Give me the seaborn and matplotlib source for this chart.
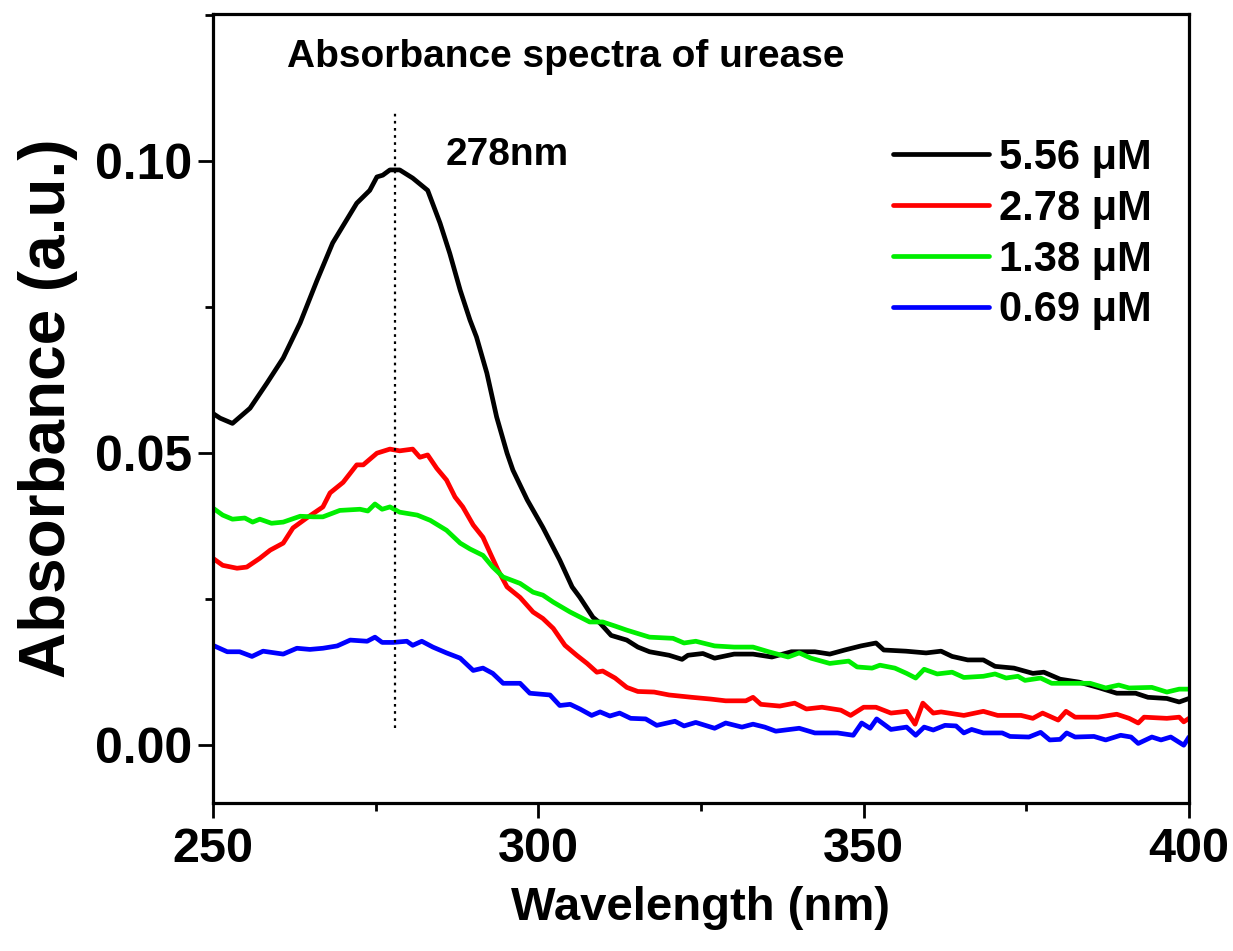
import numpy as np
import pandas as pd
import matplotlib
matplotlib.use("Agg")
import matplotlib.pyplot as plt
from matplotlib import font_manager
from matplotlib.ticker import MultipleLocator, FormatStrFormatter
import seaborn as sns

# ---- data ----
wl_black = [250, 251.1, 253, 255.7, 258.3, 260.8, 263.4, 266, 268.4, 272.1, 274.1, 275.2, 276.1,
            277.2, 278.7, 280.7, 283, 284.9, 286.4, 288, 289.5, 290.5, 292.1, 293.6, 295.2, 296.1,
            298.3, 300.7, 303.3, 305.2, 306.4, 308.4, 309.5, 311.2, 313.6, 315.3, 317.1, 320.1,
            322.1, 323, 325.3, 327.1, 330.1, 333, 335.9, 338.9, 342.5, 344.8, 347.1, 349.6, 351.9,
            353.1, 356.5, 359.6, 361.9, 363.6, 366, 368.4, 370.2, 373.1, 376, 377.7, 380.2, 383.1,
            386, 388.9, 391.8, 393.7, 396.6, 398.5, 400]
abs_black = [0.0568, 0.056, 0.0551, 0.0577, 0.062, 0.0663, 0.0723, 0.0796, 0.086, 0.0928, 0.095,
             0.0973, 0.0976, 0.0985, 0.0985, 0.0971, 0.095, 0.0894, 0.0842, 0.0779, 0.0728, 0.0699,
             0.0637, 0.0562, 0.05, 0.0471, 0.042, 0.0373, 0.0317, 0.0271, 0.0253, 0.0219, 0.0209,
             0.0188, 0.018, 0.0168, 0.016, 0.0154, 0.0147, 0.0154, 0.0157, 0.0149, 0.0156, 0.0156,
             0.0151, 0.016, 0.016, 0.0156, 0.0163, 0.017, 0.0175, 0.0163, 0.0161, 0.0158, 0.0161,
             0.0152, 0.0146, 0.0146, 0.0135, 0.0132, 0.0123, 0.0125, 0.0113, 0.0108, 0.0099, 0.0089,
             0.0089, 0.0082, 0.008, 0.0074, 0.008]

wl_red = [250, 251.5, 253.7, 255.2, 257.2, 258.8, 260.8, 262.3, 264.4, 266.9, 268, 270, 272.1,
          273.1, 275.2, 277.2, 278.7, 280.7, 281.8, 283, 284.4, 285.9, 287.2, 288.4, 290, 291.5,
          292.6, 293.8, 295.2, 297.2, 299.2, 300.7, 302.3, 304.1, 305.9, 307.5, 309, 309.9, 311.8,
          313.6, 315.3, 317.8, 320.1, 323.6, 326.5, 328.8, 331.9, 333, 334.2, 337.1, 339.4, 341.2,
          343.6, 346.5, 348, 350, 351.9, 354.2, 356.6, 357.9, 359.1, 360.7, 361.9, 365.4, 368.4,
          370.6, 374.2, 376, 377.5, 379.9, 381.1, 382.5, 386, 388.9, 390.8, 392.2, 393.1, 396.6,
          398.5, 399.2, 400]
abs_red = [0.032, 0.0308, 0.0303, 0.0305, 0.032, 0.0334, 0.0346, 0.0372, 0.0389, 0.0408, 0.0432,
           0.045, 0.048, 0.048, 0.05, 0.0507, 0.0504, 0.0507, 0.0493, 0.0497, 0.0474, 0.0454,
           0.0425, 0.0408, 0.0377, 0.0356, 0.0329, 0.03, 0.0271, 0.0253, 0.0228, 0.0217, 0.02,
           0.0171, 0.0154, 0.014, 0.0125, 0.0127, 0.0115, 0.0099, 0.0092, 0.0091, 0.0086, 0.0082,
           0.0079, 0.0076, 0.0076, 0.0082, 0.007, 0.0067, 0.0072, 0.0062, 0.0065, 0.006, 0.0051,
           0.0065, 0.0065, 0.0055, 0.0058, 0.0036, 0.0072, 0.0055, 0.0057, 0.0051, 0.0058, 0.0051,
           0.0051, 0.0046, 0.0055, 0.0043, 0.0058, 0.0048, 0.0048, 0.0053, 0.0046, 0.0038, 0.0048,
           0.0046, 0.0048, 0.004, 0.0046]

wl_green = [250, 251.5, 253, 254.9, 256.1, 257.2, 259, 260.8, 263.4, 265.4, 266.9, 269.5, 272.6,
            273.8, 274.9, 276, 277.2, 278.7, 281.4, 283.4, 285.9, 288, 289.5, 291.5, 293, 294.6,
            297.2, 299.2, 300.7, 302.3, 304.9, 307.9, 309.9, 311.8, 313.6, 317.1, 320.7, 322.4,
            324.2, 327.1, 330.1, 333, 335.4, 338.4, 340.1, 341.9, 344.8, 347.7, 349, 351.3, 352.5,
            354.8, 356.6, 358, 359.3, 361.3, 363.6, 365.4, 368.4, 370.2, 371.9, 373.7, 374.8, 377.2,
            378.9, 381.9, 384.8, 387.2, 389.2, 390.8, 394.3, 396.6, 398.5, 400]
abs_green = [0.0406, 0.0394, 0.0387, 0.0389, 0.0382, 0.0387, 0.038, 0.0382, 0.0392, 0.0391, 0.0391,
             0.0402, 0.0404, 0.0401, 0.0413, 0.0404, 0.0408, 0.0399, 0.0394, 0.0385, 0.0368, 0.0346,
             0.0336, 0.0325, 0.0305, 0.0288, 0.0277, 0.0262, 0.0257, 0.0245, 0.0228, 0.0211, 0.0211,
             0.0204, 0.0197, 0.0185, 0.0183, 0.0175, 0.0178, 0.017, 0.0168, 0.0168, 0.016, 0.0151,
             0.0158, 0.0149, 0.014, 0.0144, 0.0134, 0.0132, 0.0137, 0.0132, 0.0123, 0.0115, 0.013,
             0.0122, 0.0125, 0.0116, 0.0118, 0.0122, 0.0115, 0.0118, 0.0111, 0.0115, 0.0106, 0.0106,
             0.0106, 0.0098, 0.0103, 0.0098, 0.0099, 0.0091, 0.0096, 0.0096]

wl_blue = [250, 252.2, 254.1, 256, 257.7, 260.8, 262.9, 264.9, 266.9, 269.1, 271.1, 273.7, 274.9,
           276, 277.7, 279.8, 280.7, 282.1, 283.8, 285.9, 288, 290, 291.5, 293, 294.6, 297.2, 298.7,
           301.8, 303.3, 304.9, 306.4, 308.2, 309.5, 311, 312.5, 314.2, 316.5, 318.2, 321, 322.4,
           324.2, 327.1, 328.8, 331.3, 333, 334.8, 336.5, 340.1, 342.5, 346, 348.4, 349.7, 351, 352,
           354.2, 356.6, 358, 359.3, 360.7, 362.5, 364.2, 365.4, 366.6, 368.4, 371.3, 372.5, 375.4,
           377.2, 378.6, 380.2, 381.2, 382.5, 385.4, 387.2, 389.5, 391.1, 392.2, 394.3, 395.7, 397.2,
           399.2, 400]
abs_blue = [0.0171, 0.016, 0.016, 0.0152, 0.0161, 0.0156, 0.0166, 0.0164, 0.0166, 0.017, 0.018,
            0.0178, 0.0185, 0.0176, 0.0176, 0.0178, 0.0171, 0.0178, 0.0168, 0.0158, 0.0149, 0.0128,
            0.0132, 0.0123, 0.0106, 0.0106, 0.0089, 0.0086, 0.0068, 0.007, 0.0062, 0.0051, 0.0057,
            0.005, 0.0055, 0.0046, 0.0045, 0.0034, 0.0041, 0.0033, 0.0039, 0.0029, 0.0038, 0.0031,
            0.0036, 0.0031, 0.0024, 0.0029, 0.0021, 0.0021, 0.0017, 0.0038, 0.0029, 0.0045, 0.0027,
            0.0031, 0.0017, 0.0031, 0.0026, 0.0034, 0.0033, 0.0021, 0.0027, 0.0021, 0.0021, 0.0015,
            0.0014, 0.0022, 0.0009, 0.001, 0.0021, 0.0014, 0.0015, 0.0009, 0.0017, 0.0014, 0.0003,
            0.0014, 0.0009, 0.0014, 0.0, 0.0014]

labels = ["5.56 \u03bcM", "2.78 \u03bcM", "1.38 \u03bcM", "0.69 \u03bcM"]
colors = ["#000000", "#ff0000", "#00ee00", "#0000ff"]
peak_wl = 278

# ---- long-format table for seaborn ----
frames = []
for lab, wl, ab in zip(labels, [wl_black, wl_red, wl_green, wl_blue],
                       [abs_black, abs_red, abs_green, abs_blue]):
    frames.append(pd.DataFrame({"Wavelength": wl, "Absorbance": ab, "conc": lab}))
df = pd.concat(frames, ignore_index=True)

# ---- style / fonts ----
sns.set_style("white")
installed = {f.name for f in font_manager.fontManager.ttflist}
main_font = "Liberation Sans" if "Liberation Sans" in installed else "DejaVu Sans"
plt.rcParams["font.family"] = [main_font, "DejaVu Sans"]
plt.rcParams["font.weight"] = "bold"
plt.rcParams["text.color"] = "black"
plt.rcParams["axes.labelcolor"] = "black"
plt.rcParams["xtick.color"] = "black"
plt.rcParams["ytick.color"] = "black"

fig = plt.figure(figsize=(12.33, 9.51), dpi=100)
ax = fig.add_axes([0.1727, 0.1556, 0.9643 - 0.1727, 0.9853 - 0.1556])

sns.lineplot(data=df, x="Wavelength", y="Absorbance", hue="conc", hue_order=labels,
             palette=colors, estimator=None, sort=False, linewidth=3.4, ax=ax)

ax.plot([peak_wl, peak_wl], [0.003, 0.1087], color="black", linestyle=(0, (1.2, 2.0)),
        linewidth=1.6)

ax.set_xlim(250, 400)
ax.set_ylim(-0.0099, 0.1252)
ax.xaxis.set_major_locator(MultipleLocator(50))
ax.xaxis.set_minor_locator(MultipleLocator(25))
ax.yaxis.set_major_locator(MultipleLocator(0.05))
ax.yaxis.set_minor_locator(MultipleLocator(0.025))
ax.yaxis.set_major_formatter(FormatStrFormatter("%.2f"))

for sp in ax.spines.values():
    sp.set_visible(True)
    sp.set_linewidth(2.3)
    sp.set_color("black")

ax.tick_params(axis="both", which="major", direction="out", length=11, width=2)
ax.tick_params(axis="both", which="minor", direction="out", length=6, width=2)
ax.tick_params(axis="both", which="both", bottom=True, left=True, top=False, right=False)
ax.tick_params(axis="y", which="major", labelsize=36, pad=4)
ax.tick_params(axis="x", which="major", labelsize=35, pad=6)
for t in ax.get_xticklabels() + ax.get_yticklabels():
    t.set_fontweight("bold")

ax.set_xlabel("Wavelength (nm)", fontsize=34, fontweight="bold", labelpad=10)
ax.set_ylabel("Absorbance (a.u.)", fontsize=46, fontweight="bold", labelpad=12)

ax.text(261.4, 0.1178, "Absorbance spectra of urease", fontsize=28,
        fontweight="bold", va="center", ha="left")
ax.text(285.7, 0.1010, "278nm", fontsize=28, fontweight="bold", va="center", ha="left")

leg = ax.legend(loc="upper left", bbox_to_anchor=(0.697, 0.843), frameon=False, fontsize=30,
                handlelength=2.3, handletextpad=0.25, labelspacing=0.26, borderpad=0,
                borderaxespad=0)
for txt in leg.get_texts():
    txt.set_fontweight("bold")
for line in leg.get_lines():
    line.set_linewidth(3.4)

fig.savefig("out.png", dpi=100)
